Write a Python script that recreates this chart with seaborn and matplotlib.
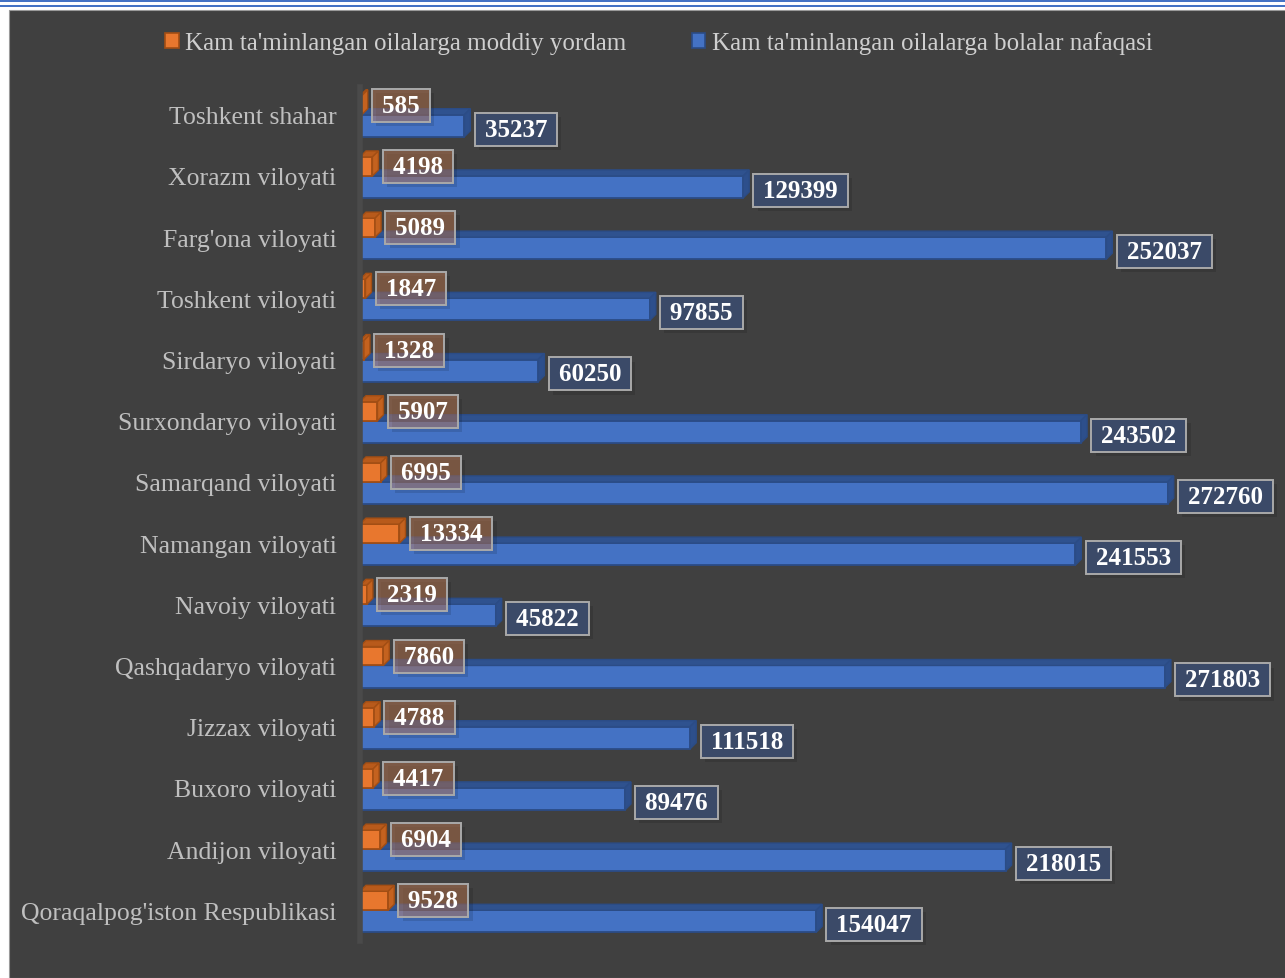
import numpy as np
import pandas as pd
import matplotlib
matplotlib.use("Agg")
import matplotlib.pyplot as plt
import seaborn as sns
from matplotlib.patches import Polygon, Rectangle, Patch
from matplotlib.transforms import IdentityTransform
import matplotlib.patheffects as pe

# ---------------- data (top to bottom) ----------------
regions = [
    "Toshkent shahar",
    "Xorazm viloyati",
    "Farg'ona viloyati",
    "Toshkent viloyati",
    "Sirdaryo viloyati",
    "Surxondaryo viloyati",
    "Samarqand viloyati",
    "Namangan viloyati",
    "Navoiy viloyati",
    "Qashqadaryo viloyati",
    "Jizzax viloyati",
    "Buxoro viloyati",
    "Andijon viloyati",
    "Qoraqalpog'iston Respublikasi",
]
moddiy_yordam = [585, 4198, 5089, 1847, 1328, 5907, 6995, 13334, 2319, 7860, 4788, 4417, 6904, 9528]
bolalar_nafaqasi = [35237, 129399, 252037, 97855, 60250, 243502, 272760, 241553, 45822,
                    271803, 111518, 89476, 218015, 154047]
series_names = ["Kam ta'minlangan oilalarga moddiy yordam",
                "Kam ta'minlangan oilalarga bolalar nafaqasi"]

# ---------------- style ----------------
ORANGE = "#E8772E"
ORANGE_DARK = "#B85A1B"
ORANGE_EDGE = "#A24E14"
BLUE = "#4472C4"
BLUE_DARK = "#2F528F"
BLUE_EDGE = "#2B4C86"
BG = "#404040"

sns.set_style("white")
plt.rcParams["font.family"] = ["Liberation Serif", "DejaVu Serif"]

W, H, DPI = 1285, 979, 100
fig = plt.figure(figsize=(W / DPI, H / DPI), dpi=DPI, facecolor="white")

# dark chart area and top decorative lines
fig.patches.append(Rectangle((9 / W, 0), 1, 1 - 11 / H, transform=fig.transFigure,
                             facecolor=BG, edgecolor="#9a9a9a", lw=0.8, zorder=-5))
fig.patches.append(Rectangle((0, 1 - 3 / H), 1, 3 / H, transform=fig.transFigure,
                             facecolor=BLUE, lw=0, zorder=-5))
fig.patches.append(Rectangle((0, 1 - 7.5 / H), 1, 1.6 / H, transform=fig.transFigure,
                             facecolor=BLUE, lw=0, zorder=-5))

ax = fig.add_axes([360 / W, 1 - 948 / H, 918 / W, 869 / H])
ax.set_facecolor("none")
ax.set_zorder(2)

df = pd.DataFrame({"Region": regions,
                   series_names[0]: moddiy_yordam,
                   series_names[1]: bolalar_nafaqasi})
long = df.melt(id_vars="Region", var_name="Series", value_name="Value")

sns.barplot(data=long, y="Region", x="Value", hue="Series", order=regions,
            hue_order=series_names, orient="h", palette=[ORANGE, BLUE],
            width=0.62, saturation=1, ax=ax, legend=False)

ax.set_xlim(0, 310000)
ax.set_ylim(len(regions) - 0.4, -0.6)
ax.set_xlabel("")
ax.set_ylabel("")
ax.set_xticks([])
for s in ["top", "right", "bottom"]:
    ax.spines[s].set_visible(False)
ax.spines["left"].set_color("#4a4a4a")
ax.spines["left"].set_linewidth(4)
ax.spines["left"].set_bounds(-0.45, len(regions) - 0.5)
ax.tick_params(axis="y", length=0, pad=17, labelsize=18.5, labelcolor="#bfbfbf")

# ---------------- 3D faces + labels ----------------
DEPTH = 6
styles = [
    # edge, top face, side face, label box, label dy, bar zorder
    (ORANGE_EDGE, ORANGE_DARK, "#C4621F", (0.82, 0.50, 0.32, 0.42), 0.0, 2.0),
    (BLUE_EDGE, BLUE_DARK, "#2d4f8c", "#3b4a68", -2.5, 1.0),
]
bar_heights = [0.31, 0.36]
for container, (edge, topc, sidec, boxc, dy, zb), vals, bh in zip(
        ax.containers, styles, [moddiy_yordam, bolalar_nafaqasi], bar_heights):
    for bar, v in zip(container, vals):
        bar.set_height(bh)
        bar.set_edgecolor(edge)
        bar.set_linewidth(1.3)
        bar.set_zorder(zb)
        x0, y0 = bar.get_x(), bar.get_y()
        w, h = bar.get_width(), bar.get_height()
        pa = ax.transData.transform((x0, y0))
        pb = ax.transData.transform((x0 + w, y0 + h))
        px0, px1 = min(pa[0], pb[0]), max(pa[0], pb[0])
        ytop, ybot = max(pa[1], pb[1]), min(pa[1], pb[1])
        top = Polygon([(px0, ytop), (px1, ytop), (px1 + DEPTH, ytop + DEPTH), (px0 + DEPTH, ytop + DEPTH)],
                      closed=True, transform=IdentityTransform(), facecolor=topc,
                      edgecolor=edge, lw=1.0, zorder=zb + 0.5, clip_on=False)
        side = Polygon([(px1, ytop), (px1 + DEPTH, ytop + DEPTH), (px1 + DEPTH, ybot + DEPTH), (px1, ybot)],
                       closed=True, transform=IdentityTransform(), facecolor=sidec,
                       edgecolor=edge, lw=1.0, zorder=zb + 0.5, clip_on=False)
        ax.add_artist(top)
        ax.add_artist(side)

        t = ax.annotate(f"\u2009{v}\u2009", xy=(x0 + w, y0 + h / 2), xytext=(11, dy),
                        textcoords="offset points", ha="left", va="center",
                        fontsize=18, fontweight="bold", color="white", zorder=4,
                        bbox=dict(boxstyle="square,pad=0.2", fc=boxc, ec="#a9a9a9", lw=1.4))
        t.get_bbox_patch().set_path_effects([
            pe.SimplePatchShadow(offset=(3, -3), shadow_rgbFace="black", alpha=0.12),
            pe.Normal()])

# ---------------- legend ----------------
handles = [Patch(facecolor=ORANGE, edgecolor=ORANGE_EDGE, lw=1.2),
           Patch(facecolor=BLUE, edgecolor=BLUE_EDGE, lw=1.2)]
fig.legend(handles=handles, labels=series_names, loc="center",
           bbox_to_anchor=(659 / W, 1 - 44 / H), ncol=2, frameon=False,
           fontsize=18, labelcolor="#cfcfcf", handlelength=0.55, handleheight=0.55,
           handletextpad=0.25, columnspacing=2.6)

fig.savefig("out.png", dpi=DPI, facecolor=fig.get_facecolor())
